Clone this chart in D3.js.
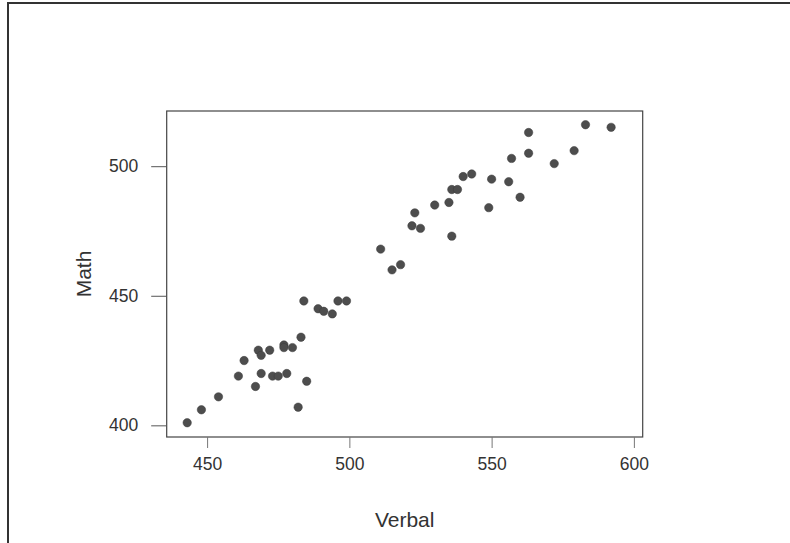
<!DOCTYPE html>
<html>
<head>
<meta charset="utf-8">
<script src="https://cdn.jsdelivr.net/npm/d3@7"></script>
<style>
  body { margin: 0; background: #fff; }
</style>
</head>
<body>
<div id="chart"></div>
<script>
// SAT scores by state
const verbal = [443, 448, 454, 461, 463, 467, 468, 469, 469, 472, 473, 475, 477, 477, 478, 480, 482, 483, 484, 485,
                489, 491, 494, 496, 499, 511, 515, 518, 522, 525, 523, 530, 535, 536, 536, 538, 549, 560, 550, 556,
                540, 543, 563, 563, 557, 579, 572, 583, 592];
const math   = [401, 406, 411, 419, 425, 415, 429, 427, 420, 429, 419, 419, 431, 430, 420, 430, 407, 434, 448, 417,
                445, 444, 443, 448, 448, 468, 460, 462, 477, 476, 482, 485, 486, 473, 491, 491, 484, 488, 495, 494,
                496, 497, 513, 505, 503, 506, 501, 516, 515];
const xTicks = [450, 500, 550, 600];
const yTicks = [400, 450, 500];

const width = 790;
const height = 543;
const plot = { left: 166.7, right: 642.7, top: 111, bottom: 437 };

const svg = d3.select("#chart").append("svg")
  .attr("width", width)
  .attr("height", height)
  .style("font-family", "Liberation Sans, Arial, sans-serif");

// outer frame (left and top edges only are visible)
svg.append("path")
  .attr("d", `M8,${height} L8,3 L${width},3`)
  .attr("fill", "none")
  .attr("stroke", "#333")
  .attr("stroke-width", 2);

const x = d3.scaleLinear().domain([435.8, 603.1]).range([plot.left, plot.right]);
const y = d3.scaleLinear().domain([395.5, 521.3]).range([plot.bottom, plot.top]);

// plot box
svg.append("rect")
  .attr("x", plot.left)
  .attr("y", plot.top)
  .attr("width", plot.right - plot.left)
  .attr("height", plot.bottom - plot.top)
  .attr("fill", "none")
  .attr("stroke", "#444")
  .attr("stroke-width", 1.2);

// x axis
const xAxis = svg.append("g")
  .attr("transform", `translate(0,${plot.bottom})`)
  .call(d3.axisBottom(x).tickValues(xTicks).tickSize(11).tickPadding(10).tickFormat(d3.format("d")));
xAxis.select(".domain").remove();
xAxis.selectAll("line").attr("stroke", "#777");
xAxis.selectAll("text")
  .style("font-family", "Liberation Sans, Arial, sans-serif")
  .style("font-size", "17.5px")
  .attr("fill", "#333");

// y axis
const yAxis = svg.append("g")
  .attr("transform", `translate(${plot.left},0)`)
  .call(d3.axisLeft(y).tickValues(yTicks).tickSize(15.5).tickPadding(13).tickFormat(d3.format("d")));
yAxis.select(".domain").remove();
yAxis.selectAll("line").attr("stroke", "#555");
yAxis.selectAll("text")
  .style("font-family", "Liberation Sans, Arial, sans-serif")
  .style("font-size", "17.5px")
  .attr("fill", "#333");

// points
svg.append("g")
  .selectAll("circle")
  .data(verbal.map((v, i) => ({ v: v, m: math[i] })))
  .join("circle")
    .attr("cx", d => x(d.v))
    .attr("cy", d => y(d.m))
    .attr("r", 4.2)
    .attr("fill", "#4d4d4d")
    .attr("stroke", "#3a3a3a")
    .attr("stroke-width", 0.5);

// axis titles
svg.append("text")
  .attr("x", (plot.left + plot.right) / 2)
  .attr("y", 527)
  .attr("text-anchor", "middle")
  .style("font-size", "21px")
  .attr("fill", "#333")
  .text("Verbal");

svg.append("text")
  .attr("transform", `translate(91,${(plot.top + plot.bottom) / 2}) rotate(-90)`)
  .attr("text-anchor", "middle")
  .style("font-size", "21px")
  .attr("fill", "#333")
  .text("Math");
</script>
</body>
</html>
